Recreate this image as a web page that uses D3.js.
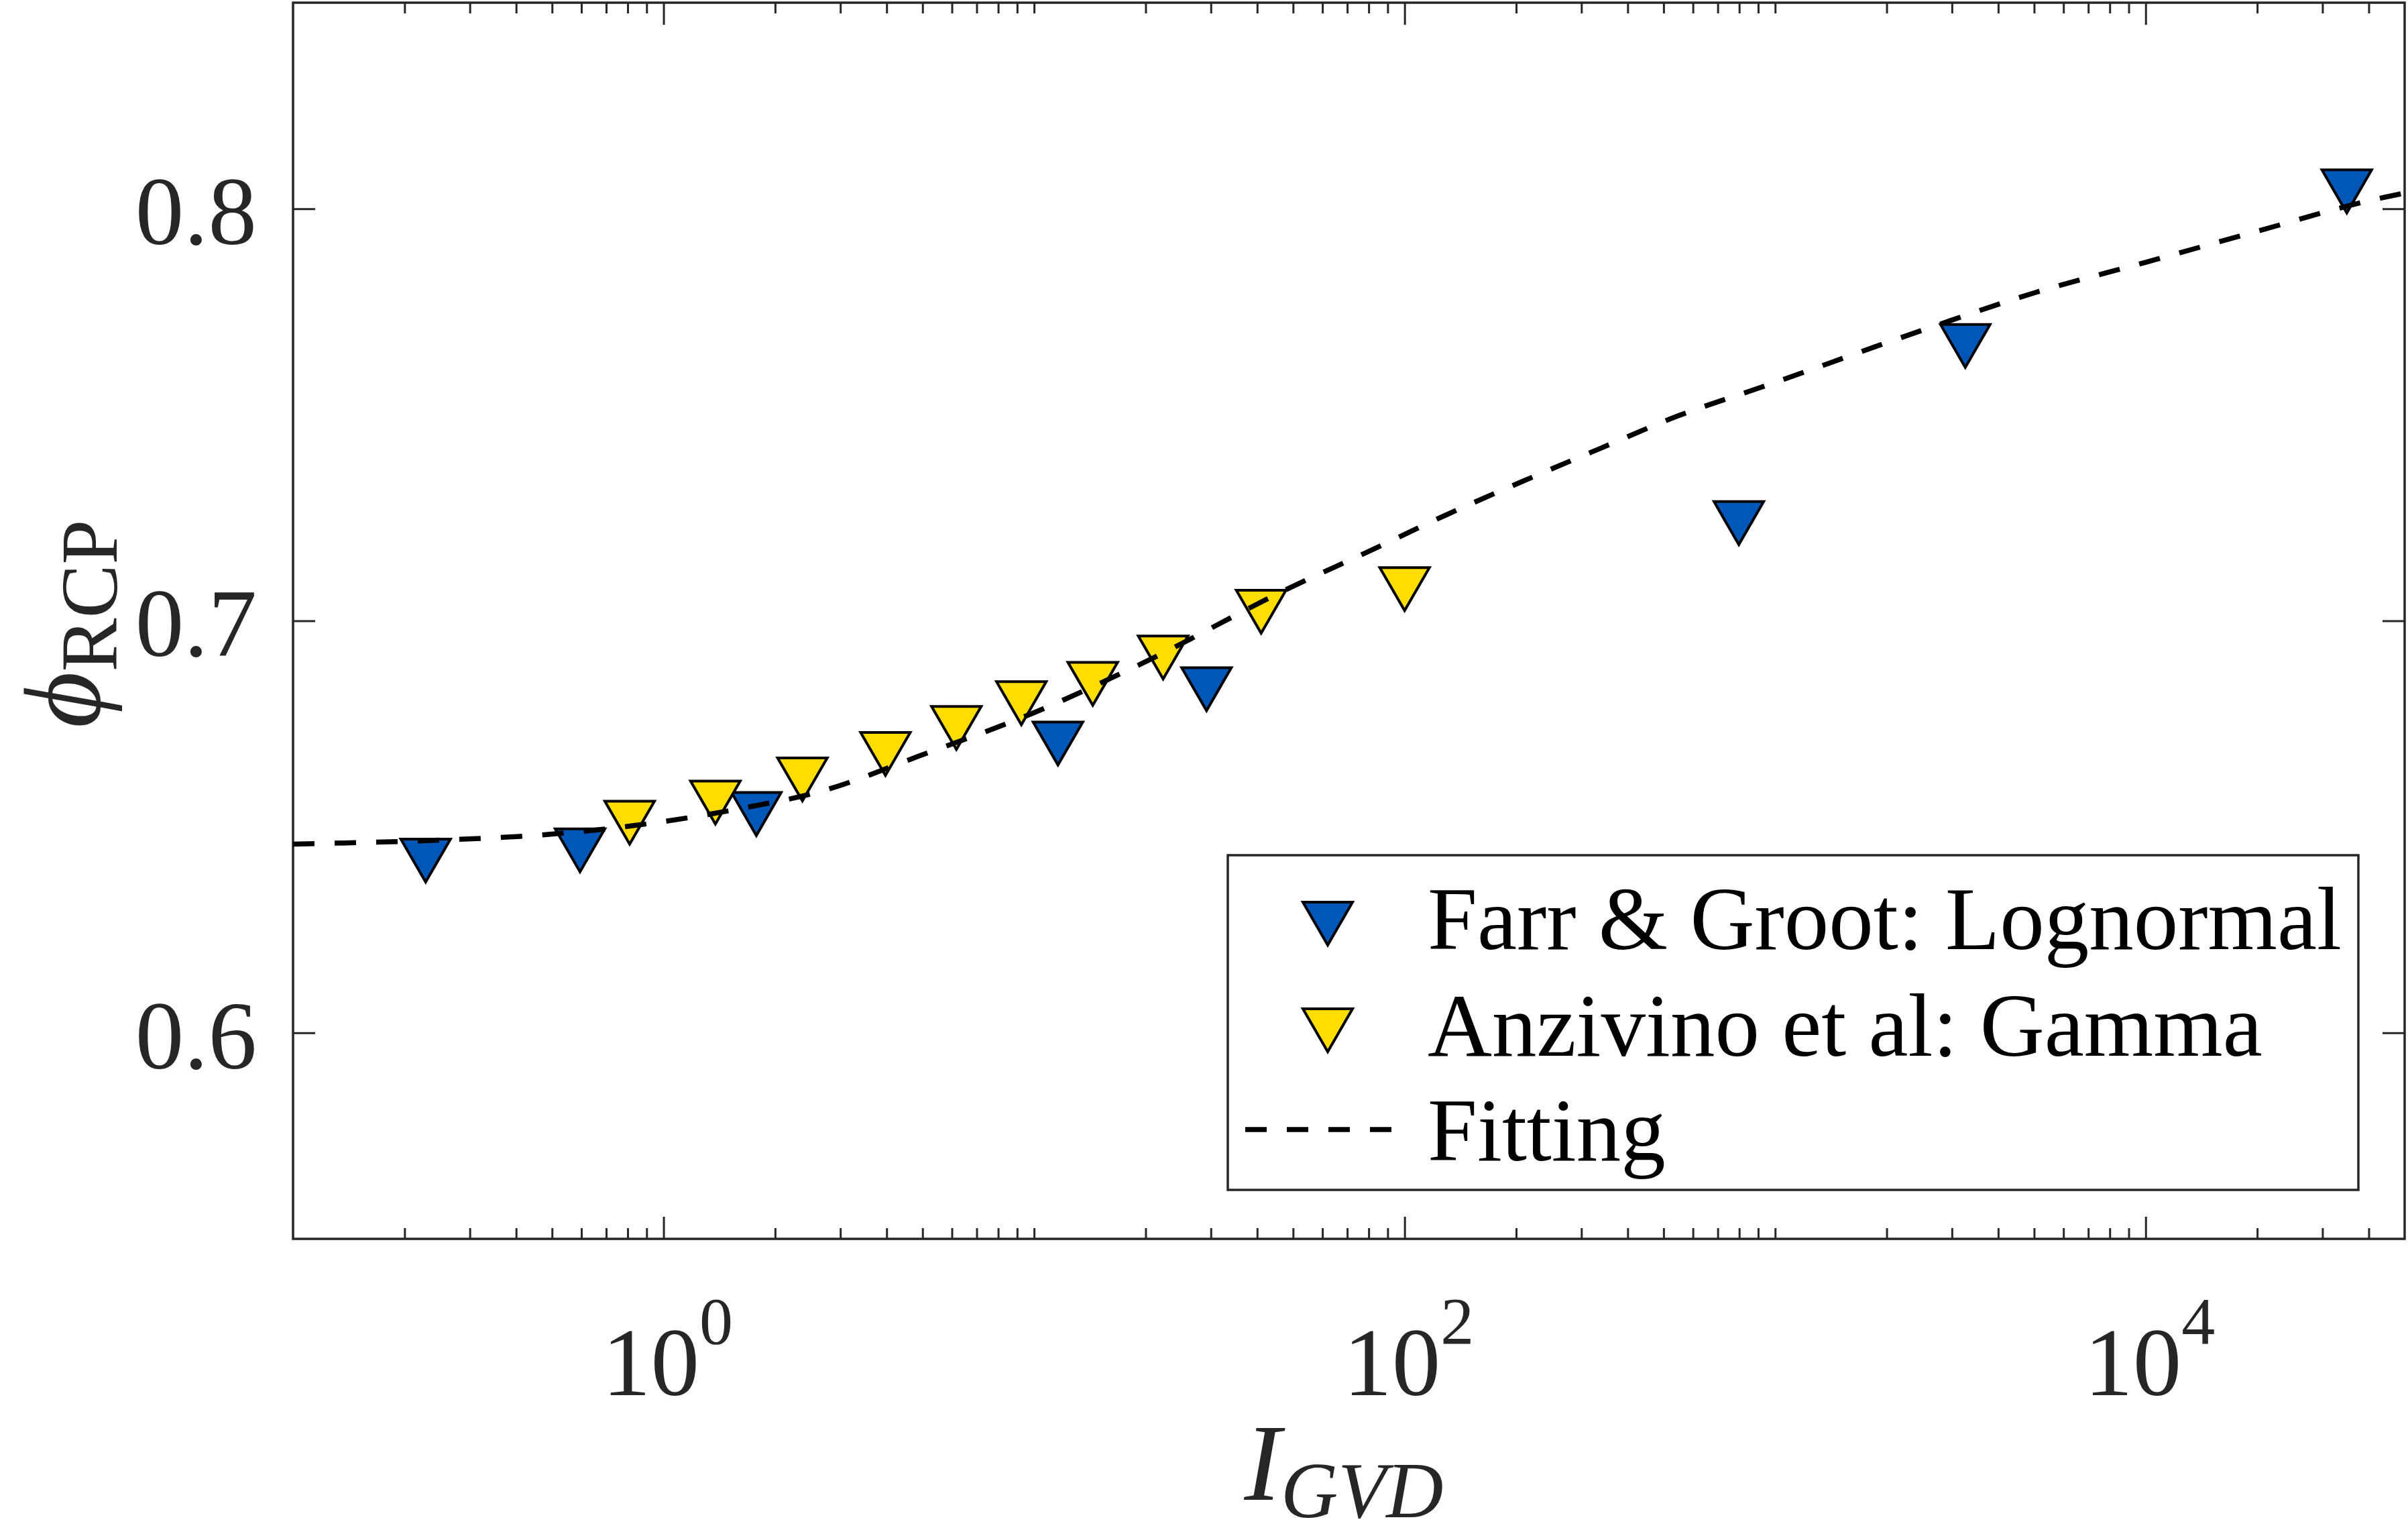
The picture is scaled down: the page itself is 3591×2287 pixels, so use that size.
<!DOCTYPE html>
<html>
<head>
<meta charset="utf-8">
<script src="https://cdn.jsdelivr.net/npm/d3@7"></script>
<style>
  html, body { margin: 0; padding: 0; background: #fff; }
  svg { display: block; }
  text { font-family: "Liberation Serif", "Times New Roman", serif; }
</style>
</head>
<body>
<div id="chart"></div>
<script>
// ---------- data ----------
const farrX = [0.228, 0.595, 1.78, 11.6, 29.2, 798, 3260, 34900];
const farrY = [0.6418, 0.6443, 0.6531, 0.6702, 0.6834, 0.7237, 0.7667, 0.8042];

const anzX = [0.81, 1.38, 2.37, 3.97, 6.17, 9.24, 14.4, 22.3, 41.0, 100];
const anzY = [0.651, 0.6559, 0.6615, 0.6677, 0.674, 0.680, 0.6847, 0.6911, 0.7022, 0.7077];

const fitX = [0.1, 0.251, 0.447, 0.832, 1.585, 2.754, 4.898, 10, 19.5, 49.0, 79.4, 128.8, 208.9, 338.8, 549.5, 912, 2570, 5012, 10000, 19953, 41687, 50000];
const fitY = [0.6458, 0.6468, 0.6479, 0.6503, 0.6543, 0.6590, 0.6672, 0.6777, 0.6896, 0.7080, 0.7167, 0.7256, 0.7339, 0.7419, 0.7498, 0.7566, 0.7709, 0.7796, 0.7870, 0.7945, 0.8023, 0.8038];

const xMajorTicks = [1, 100, 10000];
const xTickExponents = ["0", "2", "4"];
const yTicks = [0.6, 0.7, 0.8];
const yTickLabels = ["0.6", "0.7", "0.8"];

const seriesNames = ["Farr & Groot: Lognormal", "Anzivino et al: Gamma", "Fitting"];
const seriesColors = ["#0057b8", "#ffdd00"];

// ---------- layout ----------
const W = 3591, H = 2287;
const L = 437, R = 3586, T = 4, B = 1847;
const axisColor = "#262626";

const svg = d3.select("#chart").append("svg")
  .attr("width", W).attr("height", H).attr("viewBox", `0 0 ${W} ${H}`);

const x = d3.scaleLog().domain([0.1, 5e4]).range([L, R]);
const y = d3.scaleLinear().domain([0.55, 0.85]).range([B, T]);

// white plot background
svg.append("rect").attr("x", L).attr("y", T).attr("width", R - L).attr("height", B - T).attr("fill", "#fff");

// ---------- ticks ----------
const minorTicks = x.ticks().filter(v => !xMajorTicks.some(m => Math.abs(m - v) / m < 1e-9) && v > 0.1 * 1.0001 && v < 5e4 * 0.9999);
const MAJ = 33, MIN = 16;

function styleAxis(g) {
  g.select(".domain").remove();
  g.selectAll(".tick line").attr("stroke", axisColor).attr("stroke-width", 3);
  g.selectAll(".tick text").remove();
}
svg.append("g").attr("transform", `translate(0,${B})`)
  .call(d3.axisBottom(x).tickValues(xMajorTicks).tickSize(-MAJ).tickFormat("")).call(styleAxis);
svg.append("g").attr("transform", `translate(0,${B})`)
  .call(d3.axisBottom(x).tickValues(minorTicks).tickSize(-MIN).tickFormat("")).call(styleAxis);
svg.append("g").attr("transform", `translate(0,${T})`)
  .call(d3.axisTop(x).tickValues(xMajorTicks).tickSize(-MAJ).tickFormat("")).call(styleAxis);
svg.append("g").attr("transform", `translate(0,${T})`)
  .call(d3.axisTop(x).tickValues(minorTicks).tickSize(-MIN).tickFormat("")).call(styleAxis);
svg.append("g").attr("transform", `translate(${L},0)`)
  .call(d3.axisLeft(y).tickValues(yTicks).tickSize(-MAJ).tickFormat("")).call(styleAxis);
svg.append("g").attr("transform", `translate(${R},0)`)
  .call(d3.axisRight(y).tickValues(yTicks).tickSize(-MAJ).tickFormat("")).call(styleAxis);

// axis box
svg.append("rect").attr("x", L).attr("y", T).attr("width", R - L).attr("height", B - T)
  .attr("fill", "none").attr("stroke", axisColor).attr("stroke-width", 3.5);

// tick labels
const tickFont = 145;
svg.append("g").selectAll("text").data(yTicks).join("text")
  .attr("x", L - 54).attr("y", d => y(d) + 0.365 * tickFont)
  .attr("text-anchor", "end").attr("font-size", tickFont).attr("fill", axisColor)
  .text((d, i) => yTickLabels[i]);

const xl = svg.append("g").selectAll("text").data(xMajorTicks).join("text")
  .attr("x", d => x(d) + 6).attr("y", 2080)
  .attr("text-anchor", "middle").attr("font-size", tickFont).attr("fill", axisColor);
xl.append("tspan").text("10");
xl.append("tspan").attr("dy", -77).attr("font-size", 100).text((d, i) => xTickExponents[i]);

// axis titles
const xt = svg.append("text").attr("x", 2004).attr("y", 2236)
  .attr("text-anchor", "middle").attr("font-style", "italic").attr("fill", axisColor).attr("font-size", 164);
xt.append("tspan").text("I");
xt.append("tspan").attr("dy", 26).attr("font-size", 118).text("GVD");

const yt = svg.append("text").attr("transform", `translate(148,930) rotate(-90)`)
  .attr("text-anchor", "middle").attr("fill", axisColor).attr("font-size", 162);
yt.append("tspan").attr("font-style", "italic").text("\u03D5");
yt.append("tspan").attr("dy", 26).attr("font-size", 120).text("RCP");

// ---------- marks ----------
const triDown = {
  draw(context, size) {
    const hw = Math.sqrt(size) / 2, hh = hw * 0.866;
    context.moveTo(-hw, -hh); context.lineTo(hw, -hh); context.lineTo(0, hh); context.closePath();
  }
};
const tri = d3.symbol(triDown, 74 * 74);

const plot = svg.append("g");
plot.append("g").selectAll("path").data(farrX.map((v, i) => [v, farrY[i]])).join("path")
  .attr("d", tri).attr("transform", d => `translate(${x(d[0])},${y(d[1])})`)
  .attr("fill", seriesColors[0]).attr("stroke", "#000").attr("stroke-width", 4).attr("stroke-linejoin", "miter");
plot.append("g").selectAll("path").data(anzX.map((v, i) => [v, anzY[i]])).join("path")
  .attr("d", tri).attr("transform", d => `translate(${x(d[0])},${y(d[1])})`)
  .attr("fill", seriesColors[1]).attr("stroke", "#000").attr("stroke-width", 4).attr("stroke-linejoin", "miter");

const line = d3.line().x(d => x(d[0])).y(d => y(d[1])).curve(d3.curveMonotoneX);
plot.append("path").datum(fitX.map((v, i) => [v, fitY[i]]))
  .attr("d", line).attr("fill", "none").attr("stroke", "#000")
  .attr("stroke-width", 7.5).attr("stroke-dasharray", "32,30");

// ---------- legend ----------
const lg = svg.append("g");
lg.append("rect").attr("x", 1831).attr("y", 1275).attr("width", 3517 - 1831).attr("height", 1774 - 1275)
  .attr("fill", "#fff").attr("stroke", axisColor).attr("stroke-width", 3.5);
const rowsY = [1377, 1536, 1684];
const legFont = 133;
[0, 1].forEach(i => {
  lg.append("path").attr("d", tri).attr("transform", `translate(1980,${rowsY[i]})`)
    .attr("fill", seriesColors[i]).attr("stroke", "#000").attr("stroke-width", 4);
});
lg.append("line").attr("x1", 1857).attr("x2", 2080).attr("y1", rowsY[2]).attr("y2", rowsY[2])
  .attr("stroke", "#000").attr("stroke-width", 7.5).attr("stroke-dasharray", "32,30");
seriesNames.forEach((n, i) => {
  lg.append("text").attr("x", 2129).attr("y", rowsY[i] + (i < 2 ? 38 : 46))
    .attr("font-size", legFont).attr("fill", "#000").text(n);
});
</script>
</body>
</html>
